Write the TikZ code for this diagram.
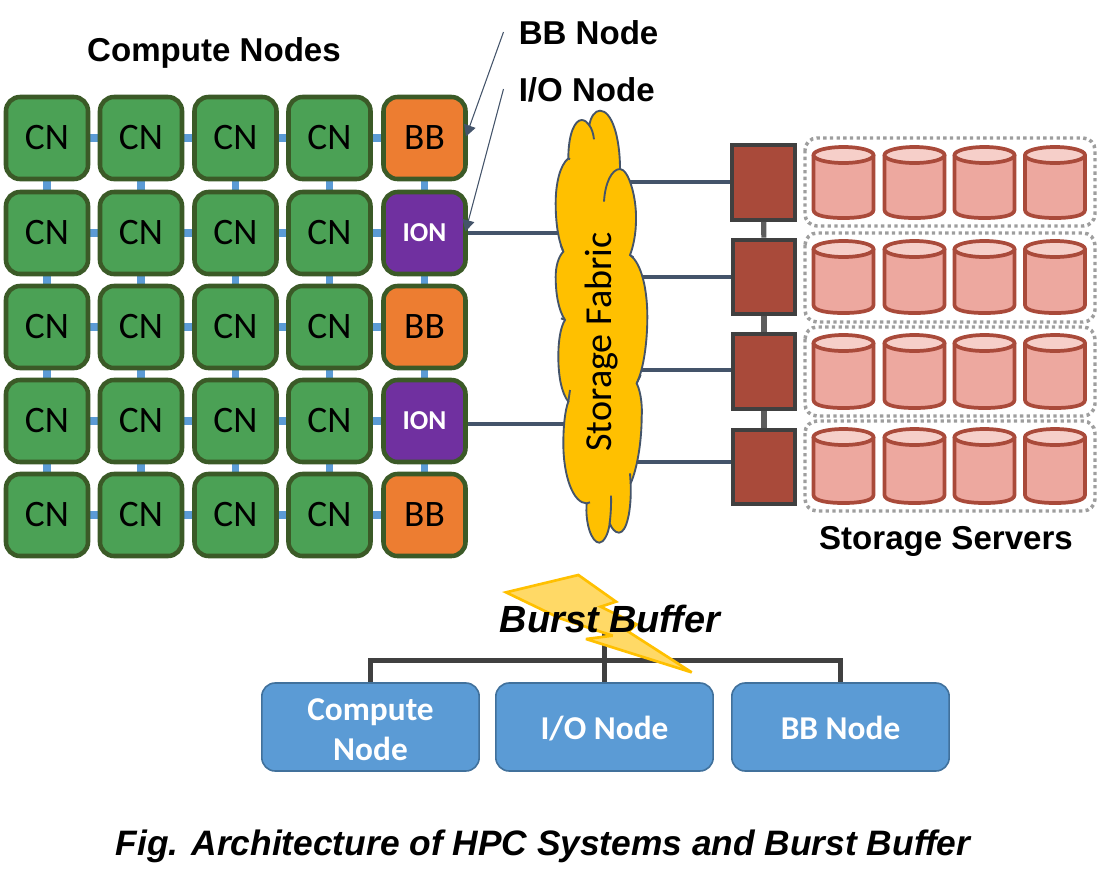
\documentclass[tikz,border=0pt]{standalone}
\usepackage{fontspec}
\setmainfont{Liberation Sans}
\newfontfamily\carlitofam{Carlito}
\usetikzlibrary{arrows.meta}
\definecolor{cngreen}{HTML}{4BA155}
\definecolor{cnedge}{HTML}{3B5A27}
\definecolor{linkblue}{HTML}{5B9BD5}
\definecolor{bborange}{HTML}{ED7D31}
\definecolor{ionpurple}{HTML}{7030A0}
\definecolor{slate}{HTML}{44546A}
\definecolor{srvred}{HTML}{A94A3A}
\definecolor{darkgrey}{HTML}{404040}
\definecolor{drumbody}{HTML}{EDA89F}
\definecolor{drumtop}{HTML}{F6CFC9}
\definecolor{cloudfill}{HTML}{FFC000}
\definecolor{boltfill}{HTML}{FFD966}
\definecolor{treeedge}{HTML}{41719C}
\tikzset{
  gridnode/.style={draw=cnedge,line width=3.4pt,rounded corners=10.5pt,minimum width=61.5pt,minimum height=61.5pt,inner sep=0pt,text=black,font=\carlitofam\fontsize{28}{28}\selectfont},
  cn/.style={gridnode,fill=cngreen},
  bb/.style={gridnode,fill=bborange},
  ion/.style={gridnode,fill=ionpurple,text=white,font=\carlitofam\bfseries\fontsize{20.5}{20.5}\selectfont},
  link/.style={draw=linkblue,line width=5.4pt},
  wire/.style={draw=slate,line width=2.6pt},
  srv/.style={draw=darkgrey,fill=srvred,line width=3pt,minimum width=47pt,minimum height=56pt,inner sep=0pt},
  srvlink/.style={draw=darkgrey!85!white,line width=3.8pt},
  drumline/.style={draw=srvred,line width=2.8pt},
  group/.style={draw=black!38,line width=2.6pt,dash pattern=on 2.5pt off 2.5pt,rounded corners=9pt},
  heading/.style={font=\bfseries\fontsize{24.8}{24.8}\selectfont,inner sep=0pt},
  pointer/.style={draw=slate,line width=0.8pt,-{Triangle[length=8.5pt,width=9pt,fill=slate]}},
  treebox/.style={draw=treeedge,fill=linkblue,line width=1.2pt,rounded corners=10pt,minimum width=163pt,minimum height=66pt,inner sep=0pt,text=white,align=center,font=\carlitofam\bfseries\fontsize{25}{30}\selectfont},
  treeline/.style={draw=darkgrey,line width=3.8pt},
}
\newcommand{\drum}[3]{% x left, y top, y bottom
  \fill[drumbody] (#1,#2+8) -- (#1+60,#2+8) -- (#1+60,#3-8) .. controls (#1+60,#3-2) and (#1+45,#3) .. (#1+30,#3) .. controls (#1+15,#3) and (#1,#3-2) .. (#1,#3-8) -- cycle;
  \draw[drumline,line join=round] (#1,#2+8) -- (#1,#3-8) .. controls (#1,#3-2) and (#1+15,#3) .. (#1+30,#3) .. controls (#1+45,#3) and (#1+60,#3-2) .. (#1+60,#3-8) -- (#1+60,#2+8);
  \draw[drumline,fill=drumtop] (#1+30,#2+8) ellipse [x radius=30,y radius=8];
}
\newcommand{\lowline}[1]{\raisebox{0pt}[20pt][1.2pt]{#1}}
\begin{document}
\begin{tikzpicture}[x=0.75pt,y=-0.75pt]
\useasboundingbox (0,0) rectangle (1097,883);
% grid links
\foreach \y in {138,233,327,421,515}{
  \draw[link] (47,\y) -- (424.5,\y);
}
\foreach \x in {47,141,235.5,329.5,424.5}{
  \draw[link] (\x,138) -- (\x,515);
}
% grid nodes
\foreach \y/\r in {138/1,233/2,327/3,421/4,515/5}{
  \foreach \x/\c in {47/1,141/2,235.5/3,329.5/4}{
    \node[cn] (cn\c\r) at (\x,\y) {CN};
  }
}
\node[bb] (bb1) at (424.5,138) {BB};
\node[ion] (ion1) at (424.5,233) {ION};
\node[bb] (bb2) at (424.5,327) {BB};
\node[ion] (ion2) at (424.5,421) {ION};
\node[bb] (bb3) at (424.5,515) {BB};
% labels
\node[heading] (lcn) at (214,53) {Compute Nodes};
\node[heading,anchor=west] (lbb) at (518.5,32.5) {BB Node};
\node[heading,anchor=west] (lio) at (518.5,89.5) {I/O Node};
\coordinate (pbbs) at (503.5,32);
\coordinate (pbbe) at (466,136.5);
\coordinate (pios) at (503.5,89);
\coordinate (pioe) at (465.5,231.5);
\draw[pointer] (pbbs) -- (pbbe);
\draw[pointer] (pios) -- (pioe);
% servers
\node[srv] (s1) at (763.5,182.5) {};
\node[srv] (s2) at (764,277) {};
\node[srv] (s3) at (764,371.5) {};
\node[srv] (s4) at (764,467) {};
\draw[srvlink] (s1) -- (s2);
\draw[srvlink] (s2) -- (s3);
\draw[srvlink] (s3) -- (s4);
% cloud anchors
\coordinate (cw1) at (580,233);
\coordinate (cw2) at (580,424);
\coordinate (ce1) at (610,182);
\coordinate (ce2) at (610,277);
\coordinate (ce3) at (610,370);
\coordinate (ce4) at (610,462);
\draw[wire] (ion1.east |- cw1) -- (cw1);
\draw[wire] (ion2.east |- cw2) -- (cw2);
\draw[wire] (ce1) -- (ce1 -| s1.west);
\draw[wire] (ce2) -- (ce2 -| s2.west);
\draw[wire] (ce3) -- (ce3 -| s3.west);
\draw[wire] (ce4) -- (ce4 -| s4.west);
% cloud
\begin{scope}[shift={(540,100)},x=0.25pt,y=-0.25pt]
\draw[draw=slate,fill=cloudfill,line width=1.4pt]
 (85,175) .. controls (85,100) and (105,60) .. (125,60)
 .. controls (135,60) and (143,68) .. (148,76)
 .. controls (152,50) and (165,32) .. (180,32)
 .. controls (215,32) and (240,110) .. (240,207)
 .. controls (265,207) and (290,290) .. (288,360)
 .. controls (288,400) and (280,440) .. (270,465)
 .. controls (305,490) and (322,570) .. (322,650)
 .. controls (322,730) and (310,810) .. (290,850)
 .. controls (305,880) and (307,930) .. (305,950)
 .. controls (305,1030) and (290,1110) .. (272,1150)
 .. controls (275,1230) and (260,1298) .. (237,1298)
 .. controls (225,1298) and (215,1285) .. (209,1270)
 .. controls (205,1305) and (190,1328) .. (178,1328)
 .. controls (155,1328) and (135,1270) .. (140,1210)
 .. controls (100,1210) and (70,1130) .. (70,1030)
 .. controls (70,980) and (75,930) .. (85,905)
 .. controls (65,880) and (55,830) .. (55,770)
 .. controls (55,720) and (62,680) .. (75,660)
 .. controls (55,630) and (47,580) .. (47,530)
 .. controls (47,500) and (55,470) .. (70,455)
 .. controls (55,420) and (47,370) .. (47,310)
 .. controls (47,250) and (60,195) .. (85,175) -- cycle;
\draw[draw=slate,line width=1.4pt]
 (148,76) .. controls (155,85) and (160,100) .. (162,118)
 (240,207) .. controls (215,207) and (195,250) .. (192,305)
 (85,175) -- (90,178)
 (270,465) -- (280,472)
 (70,455) -- (62,435)
 (75,660) -- (63,655)
 (85,905) -- (90,870)
 (290,850) -- (302,825)
 (272,1150) -- (270,1120)
 (140,1210) -- (150,1207)
 (209,1270) .. controls (212,1245) and (214,1215) .. (213,1187);
\end{scope}
\node[rotate=90,font=\carlitofam\fontsize{28.6}{28.6}\selectfont,inner sep=0pt] (fabric) at (601.5,342) {Storage Fabric};
% drums
\foreach \t/\b in {147/218,241/313,335/408,429/503}{
  \foreach \x in {813.5,884.5,954.5,1025}{
    \drum{\x}{\t}{\b}
  }
}
\draw[group] (805,138) rectangle (1095,226);
\draw[group] (805,233) rectangle (1095,322);
\draw[group] (805,327) rectangle (1095,416);
\draw[group] (805,421) rectangle (1095,511);
\node[heading] (lsrv) at (946,541) {Storage Servers};
% tree
\node[treebox] (tcn) at (370.5,727) {\rule{0pt}{20pt}Compute\\Node};
\node[treebox] (tio) at (604.5,727) {\lowline{I/O Node}};
\node[treebox] (tbb) at (840.5,727) {\lowline{BB Node}};
\node[font=\bfseries\itshape\fontsize{28.4}{28.4}\selectfont,inner sep=0pt] (burst) at (610,619) {\phantom{Burst Buffer}};
\coordinate (tj) at (604.5,660.5);
\draw[treeline] (tcn.north) -- (tcn.north |- tj) -- (tbb.north |- tj) -- (tbb.north);
\draw[treeline] (tio.north) -- (tio.north |- burst.south);
\begin{scope}[shift={(250,565)},x=0.25pt,y=-0.25pt]
\draw[draw=cloudfill,fill=boltfill,line width=2pt,line join=miter,miter limit=4]
 (768,82) -- (985,30) -- (1098,110) -- (1052,125) -- (1160,178) -- (1135,200) -- (1325,322) -- (1008,222) -- (1088,212) -- (930,160) -- cycle;
\end{scope}
\node[font=\bfseries\itshape\fontsize{28.4}{28.4}\selectfont,inner sep=0pt] (burstt) at (610,619) {Burst Buffer};
\node[font=\bfseries\itshape\fontsize{26.5}{26.5}\selectfont,inner sep=0pt] (cap) at (543,846) {Fig. Architecture of HPC Systems and Burst Buffer};
\end{tikzpicture}
\end{document}
